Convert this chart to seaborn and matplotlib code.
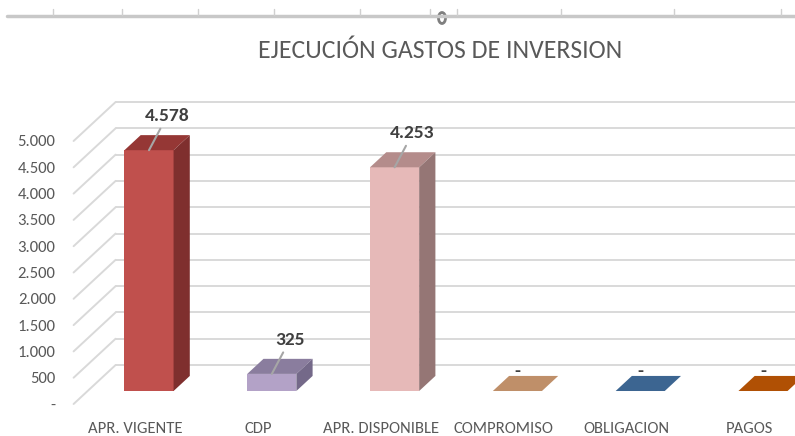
import seaborn as sns
import matplotlib.pyplot as plt
from matplotlib.patches import Polygon, Ellipse
from matplotlib.lines import Line2D

# Chart data
categories = ["APR. VIGENTE", "CDP", "APR. DISPONIBLE", "COMPROMISO", "OBLIGACION", "PAGOS"]
values = [4578, 325, 4253, 0, 0, 0]
y_ticks = [0, 500, 1000, 1500, 2000, 2500, 3000, 3500, 4000, 4500, 5000]

# Excel-like 3D face colours
front_colors = ["#C0504D", "#B3A2C7", "#E6B9B8", "#BF8F69", "#3C6591", "#B05004"]
top_colors = ["#953735", "#8A7D9E", "#B48C8B", "#BF8F69", "#3C6591", "#B05004"]
side_colors = ["#7F2F2E", "#746989", "#957675", "#A07556", "#2E4F73", "#8C4003"]

# depth of the fake 3D box (category units / value units)
DX, DY = 0.342, 741
D0, D1 = 1 / 3, 0.72


def proj(c, v, d):
    return (c + d * DX, v + d * DY)


def fmt(v):
    return "-" if v == 0 else f"{v:,.0f}".replace(",", ".")


sns.set_theme(style="white")
plt.rcParams["font.family"] = ["Carlito", "Lato", "DejaVu Sans"]

fig = plt.figure(figsize=(7.95, 4.36), dpi=100)
W, H = 795, 436
px_per_val = 0.0526
ax = fig.add_axes([73.6 / W, 1 - 404 / H, 1 - 73.6 / W, (404 - 60) / H])

sns.barplot(x=categories, y=values, hue=categories, palette=front_colors,
            width=0.4, saturation=1, legend=False, linewidth=0, ax=ax, zorder=3)

xmax = -0.5 + (W - 73.6) / 122.8
ax.set_xlim(-0.5, xmax)
ax.set_ylim(0, (404 - 60) / px_per_val)

# walls: back wall gridlines and left wall diagonals
for v in y_ticks:
    a, b = proj(-0.5, v, 0), proj(-0.5, v, 1)
    ax.plot([a[0], b[0]], [a[1], b[1]], color="#D9D9D9", lw=1.4, zorder=1, clip_on=False)
    e = proj(xmax + 1, v, 1)
    ax.plot([b[0], e[0]], [b[1], e[1]], color="#D9D9D9", lw=1.4, zorder=1)

# move front faces into depth and add top/side faces
bars = sorted(ax.patches, key=lambda p: p.get_x())
for i, p in enumerate(bars):
    x0, w, v = p.get_x(), p.get_width(), p.get_height()
    c = x0 + w / 2
    p.set_x(x0 + D0 * DX)
    p.set_y(D0 * DY)
    top = [proj(x0, v, D0), proj(x0 + w, v, D0), proj(x0 + w, v, D1), proj(x0, v, D1)]
    ax.add_patch(Polygon(top, closed=True, fc=top_colors[i], ec="none", zorder=4))
    if v > 0:
        side = [proj(x0 + w, 0, D0), proj(x0 + w, v, D0), proj(x0 + w, v, D1), proj(x0 + w, 0, D1)]
        ax.add_patch(Polygon(side, closed=True, fc=side_colors[i], ec="none", zorder=4))
        ax.annotate(fmt(v), xy=proj(c, v, D0), xytext=(18, 34), textcoords="offset pixels",
                    ha="center", va="center", fontsize=14, fontweight="bold", color="#404040",
                    arrowprops=dict(arrowstyle="-", color="#A6A6A6", lw=1.5, shrinkA=1, shrinkB=0),
                    zorder=6)
    else:
        ax.annotate(fmt(v), xy=proj(c, v, D0), xytext=(0, 20), textcoords="offset pixels",
                    ha="center", va="center", fontsize=14, fontweight="bold", color="#404040",
                    zorder=6)

ax.set_yticks(y_ticks)
ax.set_yticklabels([fmt(v) for v in y_ticks])
ax.set_xticks(range(len(categories)))
ax.set_xticklabels(categories)
ax.tick_params(axis="y", length=0, pad=13, labelsize=12, labelcolor="#595959")
ax.tick_params(axis="x", length=0, pad=13, labelsize=12, labelcolor="#595959")
ax.set_xlabel("")
ax.set_ylabel("")
for s in ax.spines.values():
    s.set_visible(False)

fig.text(440 / W, 1 - 50 / H, "EJECUCIÓN GASTOS DE INVERSION", ha="center", va="center",
         fontsize=18.5, color="#595959")

# spreadsheet strip at the top of the screenshot
fig.add_artist(Line2D([7 / W, 1], [1 - 16 / H] * 2, color="#C8C8C8", lw=2.5))
for tx in [53, 122, 198, 274, 360, 430, 457, 561, 674, 781]:
    fig.add_artist(Line2D([tx / W] * 2, [1 - 9 / H, 1 - 15 / H], color="#D0D0D0", lw=1))
fig.add_artist(Ellipse((442 / W, 1 - 18 / H), 7 / W, 11 / H, fc="white", ec="#7F7F7F", lw=2))

fig.savefig("out.png", dpi=100)
